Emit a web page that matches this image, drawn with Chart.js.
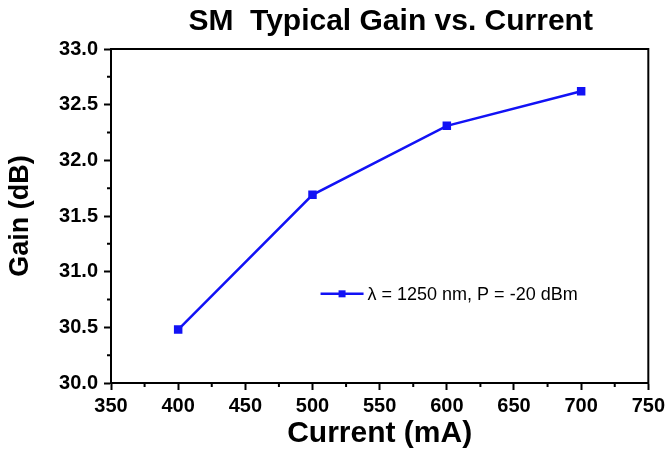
<!DOCTYPE html>
<html>
<head>
<meta charset="utf-8">
<script src="https://cdn.jsdelivr.net/npm/chart.js@4.4.1/dist/chart.umd.min.js"></script>
<style>
  html, body { margin: 0; padding: 0; background: #fff; }
  #wrap { width: 669px; height: 454px; }
</style>
</head>
<body>
<div id="wrap"><canvas id="gainChart"></canvas></div>
<script>
// data
const currents = [400, 500, 600, 700];
const gains = [30.48, 31.69, 32.31, 32.62];
const seriesLabel = 'λ = 1250 nm, P = -20 dBm';
const chartTitle = 'SM  Typical Gain vs. Current';
const xTitle = 'Current (mA)';
const yTitle = 'Gain (dB)';

const FONT = '"Liberation Sans", Arial, sans-serif';
const BLUE = '#1212f5';

// frame, minor ticks, title and in-plot legend
const framePlugin = {
    id: 'frame',
    afterDraw(chart) {
        const ctx = chart.ctx;
        const a = chart.chartArea;
        ctx.save();
        ctx.strokeStyle = '#000';
        ctx.lineWidth = 2;
        ctx.strokeRect(a.left, a.top, a.right - a.left, a.bottom - a.top);

        // minor ticks halfway between major ticks
        const xs = chart.scales.x, ys = chart.scales.y;
        ctx.beginPath();
        for (let i = 0; i < xs.ticks.length - 1; i++) {
            const px = xs.getPixelForValue((xs.ticks[i].value + xs.ticks[i + 1].value) / 2);
            ctx.moveTo(px, a.bottom);
            ctx.lineTo(px, a.bottom + 4);
        }
        for (let i = 0; i < ys.ticks.length - 1; i++) {
            const py = ys.getPixelForValue((ys.ticks[i].value + ys.ticks[i + 1].value) / 2);
            ctx.moveTo(a.left, py);
            ctx.lineTo(a.left - 4, py);
        }
        ctx.stroke();

        // title
        ctx.fillStyle = '#000';
        ctx.font = 'bold 30px ' + FONT;
        ctx.textAlign = 'center';
        ctx.textBaseline = 'alphabetic';
        ctx.fillText(chartTitle, (a.left + a.right) / 2 + 11, 30);

        // legend
        const lx = a.left + 0.39 * (a.right - a.left);
        const ly = a.top + 0.733 * (a.bottom - a.top);
        ctx.strokeStyle = BLUE;
        ctx.lineWidth = 2.5;
        ctx.beginPath();
        ctx.moveTo(lx, ly);
        ctx.lineTo(lx + 43, ly);
        ctx.stroke();
        ctx.fillStyle = BLUE;
        ctx.fillRect(lx + 21.5 - 3.5, ly - 3.5, 7, 7);
        ctx.fillStyle = '#000';
        ctx.font = '18px ' + FONT;
        ctx.textAlign = 'left';
        ctx.textBaseline = 'middle';
        ctx.fillText(chart.data.datasets[0].label, lx + 47, ly + 1);
        ctx.restore();
    }
};

new Chart(document.getElementById('gainChart'), {
    type: 'line',
    data: {
        datasets: [{
            label: seriesLabel,
            data: currents.map((c, i) => ({ x: c, y: gains[i] })),
            borderColor: BLUE,
            backgroundColor: BLUE,
            borderWidth: 2.5,
            pointStyle: 'rect',
            pointRadius: 6,
            pointBorderWidth: 0,
            tension: 0
        }]
    },
    options: {
        responsive: true,
        maintainAspectRatio: false,
        animation: false,
        layout: { padding: { top: 49, right: 20, bottom: 0, left: 0 } },
        plugins: {
            legend: { display: false },
            tooltip: { enabled: false },
            title: { display: false }
        },
        scales: {
            x: {
                type: 'linear',
                min: 350,
                max: 750,
                ticks: {
                    stepSize: 50,
                    color: '#000',
                    padding: 4,
                    maxRotation: 0,
                    font: { family: FONT, size: 20, weight: 'bold' }
                },
                grid: { drawOnChartArea: false, drawTicks: true, tickLength: 7, tickWidth: 2, tickColor: '#000' },
                border: { display: true, color: '#000', width: 2 },
                title: {
                    display: true,
                    text: xTitle,
                    color: '#000',
                    padding: { top: 0, bottom: 2 },
                    font: { family: FONT, size: 30, weight: 'bold' }
                },
                afterFit(scale) { scale.height = 71; }
            },
            y: {
                min: 30,
                max: 33,
                ticks: {
                    stepSize: 0.5,
                    color: '#000',
                    padding: 6,
                    callback: v => v.toFixed(1),
                    font: { family: FONT, size: 20, weight: 'bold' }
                },
                grid: { drawOnChartArea: false, drawTicks: true, tickLength: 7, tickWidth: 2, tickColor: '#000' },
                border: { display: true, color: '#000', width: 2 },
                title: {
                    display: true,
                    text: yTitle,
                    color: '#000',
                    padding: { top: 4, bottom: 0 },
                    font: { family: FONT, size: 27, weight: 'bold' }
                },
                afterFit(scale) { scale.width = 111; }
            }
        }
    },
    plugins: [framePlugin]
});
</script>
</body>
</html>
